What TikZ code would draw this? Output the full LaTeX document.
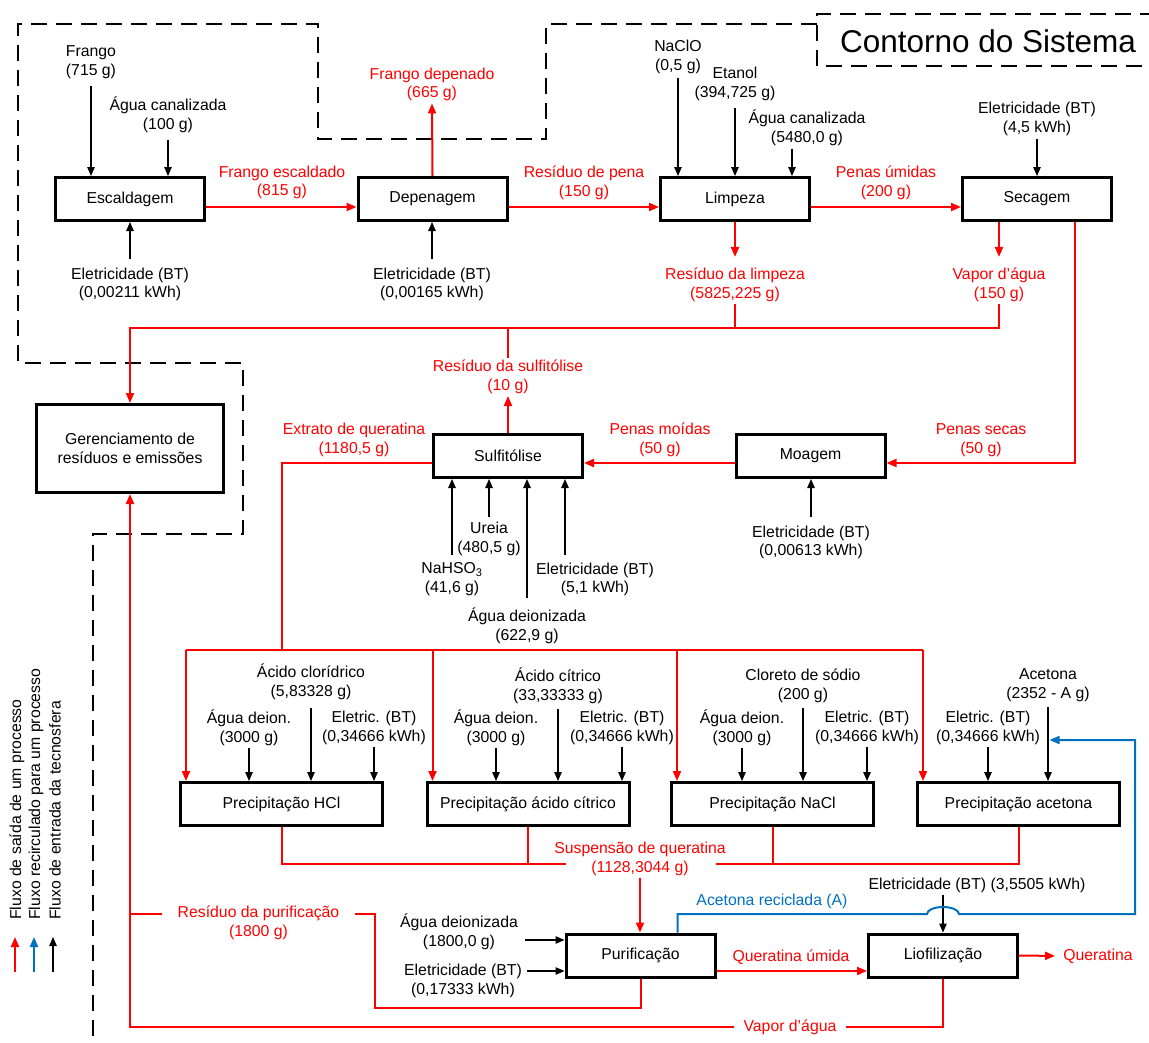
\documentclass[tikz,border=0pt]{standalone}
\usepackage{fontspec}
\setmainfont{Liberation Sans}
\usetikzlibrary{arrows.meta}
\definecolor{outred}{RGB}{255,0,0}
\definecolor{recblue}{RGB}{0,112,192}
\newcommand\lblsize{\fontsize{15.8}{18.8}\selectfont}
\tikzset{
  proc/.style={draw, line width=3pt, minimum width=149pt, minimum height=43pt, inner sep=0pt, align=center},
  lbl/.style={align=center, inner sep=2pt},
  outlbl/.style={lbl, text=outred},
  inarrow/.style={-{Triangle[length=9pt,width=7.5pt]}, line width=1.2pt},
  redline/.style={outred, line width=2pt},
  outarrow/.style={redline, -{Triangle[length=10pt,width=8pt]}},
  recarrow/.style={recblue, line width=2pt, -{Triangle[length=10pt,width=8pt]}},
  sysbound/.style={line width=2.8pt, dash pattern=on 16pt off 9pt},
}
\begin{document}
\begin{tikzpicture}[x=1pt, y=-1pt, font=\lblsize]
  \useasboundingbox (0,0) rectangle (1149,1042);

  \draw[sysbound] (817,24) -- (546,24) -- (546,139) -- (318,139) -- (318,24) -- (18,24) -- (18,363) -- (243,363) -- (243,534) -- (93,534) -- (93,1050);
  \draw[sysbound] (1156,14) -| (817,66) -- (1156,66);
  \node[font=\fontsize{31.5}{36}\selectfont] (title) at (988,41) {Contorno do Sistema};

  \node[proc] (escald) at (130,199) {Escaldagem};
  \node[proc] (depen) at (432.5,199) {Depenagem};
  \node[proc] (limp) at (735,199) {Limpeza};
  \node[proc] (secag) at (1037,199) {Secagem};
  \node[proc, minimum width=187pt, minimum height=88pt] (gerenc) at (130,448.5) {Gerenciamento de\\resíduos e emissões};
  \node[proc] (sulf) at (508,456) {Sulfitólise};
  \node[proc] (moag) at (810.5,456) {Moagem};
  \node[proc, minimum width=202pt] (precHCl) at (281.5,804) {Precipitação HCl};
  \node[proc, minimum width=202pt] (precCit) at (528,804) {Precipitação ácido cítrico};
  \node[proc, minimum width=202pt] (precNaCl) at (772.5,804) {Precipitação NaCl};
  \node[proc, minimum width=202pt] (precAcet) at (1018.5,804) {Precipitação acetona};
  \node[proc] (purif) at (640.5,955.5) {Purificação};
  \node[proc] (liof) at (943,955.5) {Liofilização};

  \node[lbl] (frango) at (91,62) {Frango\\(715 g)};
  \node[lbl] (aguaEsc) at (168,114.5) {Água canalizada\\(100 g)};
  \node[lbl] (eletEsc) at (130,284.5) {Eletricidade (BT)\\(0,00211 kWh)};
  \node[outlbl] (frEscald) at (282,182.5) {Frango escaldado\\(815 g)};
  \node[outlbl] (frDepen) at (432,84.5) {Frango depenado\\(665 g)};
  \node[lbl] (eletDep) at (432,284.5) {Eletricidade (BT)\\(0,00165 kWh)};
  \node[outlbl] (resPena) at (584,182.5) {Resíduo de pena\\(150 g)};
  \node[lbl] (naclo) at (678,57) {NaClO\\(0,5 g)};
  \node[lbl] (etanol) at (735,84) {Etanol\\(394,725 g)};
  \node[lbl] (aguaLimp) at (807,127.5) {Água canalizada\\(5480,0 g)};
  \node[outlbl] (penasUmid) at (886,183) {Penas úmidas\\(200 g)};
  \node[lbl] (eletSec) at (1037,119) {Eletricidade (BT)\\(4,5 kWh)};
  \node[outlbl] (resLimp) at (735,285) {Resíduo da limpeza\\(5825,225 g)};
  \node[outlbl] (vaporSec) at (999,285) {Vapor d’água\\(150 g)};
  \node[outlbl] (resSulf) at (508,377) {Resíduo da sulfitólise\\(10 g)};
  \node[outlbl] (extrato) at (354,440) {Extrato de queratina\\(1180,5 g)};
  \node[outlbl] (penasMoid) at (660,440) {Penas moídas\\(50 g)};
  \node[outlbl] (penasSec) at (981,440) {Penas secas\\(50 g)};
  \node[lbl] (eletMoag) at (811,542.5) {Eletricidade (BT)\\(0,00613 kWh)};
  \node[lbl] (ureia) at (489,539) {Ureia\\(480,5 g)};
  \node[lbl] (nahso) at (452,579.5) {NaHSO\textsubscript{3}\\(41,6 g)};
  \node[lbl] (eletSulf) at (595,579.5) {Eletricidade (BT)\\(5,1 kWh)};
  \node[lbl] (aguaSulf) at (527,625.5) {Água deionizada\\(622,9 g)};

  \node[lbl] (acHCl) at (311,682) {Ácido clorídrico\\(5,83328 g)};
  \node[lbl] (aguaHCl) at (249,728) {Água deion.\\(3000 g)};
  \node[lbl] (eletHCl) at (374,728) {Eletric. (BT)\\(0,34666 kWh)};
  \node[lbl] (acCit) at (558,685.5) {Ácido cítrico\\(33,33333 g)};
  \node[lbl] (aguaCit) at (496,728) {Água deion.\\(3000 g)};
  \node[lbl] (eletCit) at (622,728) {Eletric. (BT)\\(0,34666 kWh)};
  \node[lbl] (clNa) at (803,685.5) {Cloreto de sódio\\(200 g)};
  \node[lbl] (aguaNaCl) at (742,728) {Água deion.\\(3000 g)};
  \node[lbl] (eletNaCl) at (867,728) {Eletric. (BT)\\(0,34666 kWh)};
  \node[lbl] (eletAcet) at (988,728) {Eletric. (BT)\\(0,34666 kWh)};
  \node[lbl] (acetona) at (1048,685.5) {Acetona\\(2352 - A g)};

  \node[outlbl] (suspensao) at (640,859) {Suspensão de queratina\\(1128,3044 g)};
  \node[outlbl, inner xsep=15pt] (resPurif) at (258.5,922.5) {Resíduo da purificação\\(1800 g)};
  \node[lbl] (aguaPurif) at (459,931.5) {Água deionizada\\(1800,0 g)};
  \node[lbl] (eletPurif) at (463,980.5) {Eletricidade (BT)\\(0,17333 kWh)};
  \node[outlbl] (queratUmid) at (791,957) {Queratina úmida};
  \node[outlbl] (querat) at (1098,956) {Queratina};
  \node[lbl] (eletLiof) at (977,885) {Eletricidade (BT) (3,5505 kWh)};
  \node[lbl, text=recblue] (acetRec) at (772,901) {Acetona reciclada (A)};
  \node[outlbl, inner xsep=9pt] (vaporLiof) at (790,1027) {Vapor d’água};

  \node[lbl, rotate=90, anchor=west, inner sep=0pt] (legOut) at (17,920) {Fluxo de saída de um processo};
  \node[lbl, rotate=90, anchor=west, inner sep=0pt] (legRec) at (36,920) {Fluxo recirculado para um processo};
  \node[lbl, rotate=90, anchor=west, inner sep=0pt] (legIn) at (55,920) {Fluxo de entrada da tecnosfera};

  \coordinate (coll) at (0,328);
  \coordinate (dist) at (281.5,650);
  \coordinate (suspL) at (566,864);
  \coordinate (suspR) at (716,864);
  \coordinate (recY) at (0,914);
  \coordinate (recX) at (1135,740);
  \coordinate (rpC) at (375,1008);

  \draw[inarrow, shorten <=5pt] (frango.south) -- (frango.south |- escald.north);
  \draw[inarrow, shorten <=5pt] (aguaEsc.south) -- (aguaEsc.south |- escald.north);
  \draw[inarrow, shorten <=7pt] (eletEsc.north) -- (eletEsc.north |- escald.south);
  \draw[outarrow] ([yshift=-8pt]escald.east) -- ([yshift=-8pt]depen.west);
  \draw[outarrow] (depen.north) -- (frDepen.south);
  \draw[inarrow, shorten <=7pt] (eletDep.north) -- (eletDep.north |- depen.south);
  \draw[outarrow] ([yshift=-8pt]depen.east) -- ([yshift=-8pt]limp.west);
  \draw[inarrow, shorten <=2pt] (naclo.south) -- (naclo.south |- limp.north);
  \draw[inarrow, shorten <=5pt] (etanol.south) -- (etanol.south |- limp.north);
  \draw[inarrow, shorten <=1pt] ([xshift=-15pt]aguaLimp.south) -- ([xshift=-15pt]aguaLimp.south |- limp.north);
  \draw[outarrow] ([yshift=-8pt]limp.east) -- ([yshift=-8pt]secag.west);
  \draw[inarrow, shorten <=1pt] (eletSec.south) -- (eletSec.south |- secag.north);

  \draw[outarrow, shorten >=9pt] (limp.south) -- (resLimp.north);
  \draw[outarrow, shorten >=9pt] (vaporSec.north |- secag.south) -- (vaporSec.north);
  \draw[redline] (resLimp.south) -- (resLimp.south |- coll);
  \draw[outarrow] (vaporSec.south) -- (vaporSec.south |- coll) -- (gerenc.north |- coll) -- (gerenc.north);
  \draw[redline] (resSulf.north) -- (resSulf.north |- coll);
  \draw[outarrow] (sulf.north) -- (resSulf.south);

  \draw[outarrow] ([xshift=38pt]secag.south) |- ([yshift=-7pt]moag.east);
  \draw[outarrow] ([yshift=-7pt]moag.west) -- ([yshift=-7pt]sulf.east);
  \draw[inarrow, shorten <=7pt] (eletMoag.north) -- (eletMoag.north |- moag.south);
  \draw[inarrow, shorten <=6pt] (nahso.north) -- (nahso.north |- sulf.south);
  \draw[inarrow, shorten <=3pt] (ureia.north) -- (ureia.north |- sulf.south);
  \draw[inarrow, shorten <=7pt] (aguaSulf.north) -- (aguaSulf.north |- sulf.south);
  \draw[inarrow, shorten <=6pt] ([xshift=-30pt]eletSulf.north) -- ([xshift=-30pt]eletSulf.north |- sulf.south);

  \draw[redline] ([yshift=-7pt]sulf.west) -| (dist);
  \draw[redline] ([xshift=7pt]precHCl.north west |- dist) -- ([xshift=7pt]precAcet.north west |- dist);
  \foreach \b in {precHCl,precCit,precNaCl,precAcet}
    \draw[outarrow] ([xshift=7pt]\b.north west |- dist) -- ([xshift=7pt]\b.north west);

  \draw[inarrow, shorten <=6pt] (acHCl.south) -- (acHCl.south |- precHCl.north);
  \draw[inarrow] (aguaHCl.south) -- (aguaHCl.south |- precHCl.north);
  \draw[inarrow] (eletHCl.south) -- (eletHCl.south |- precHCl.north);
  \draw[inarrow, shorten <=3pt] (acCit.south) -- (acCit.south |- precCit.north);
  \draw[inarrow] (aguaCit.south) -- (aguaCit.south |- precCit.north);
  \draw[inarrow] (eletCit.south) -- (eletCit.south |- precCit.north);
  \draw[inarrow, shorten <=3pt] (clNa.south) -- (clNa.south |- precNaCl.north);
  \draw[inarrow] (aguaNaCl.south) -- (aguaNaCl.south |- precNaCl.north);
  \draw[inarrow] (eletNaCl.south) -- (eletNaCl.south |- precNaCl.north);
  \draw[inarrow] (eletAcet.south) -- (eletAcet.south |- precAcet.north);
  \draw[inarrow, shorten <=3pt] (acetona.south) -- (acetona.south |- precAcet.north);

  \draw[redline] (precHCl.south) |- (suspL);
  \draw[redline] (precCit.south) -- (precCit.south |- suspL);
  \draw[redline] (precNaCl.south) -- (precNaCl.south |- suspR);
  \draw[redline] (precAcet.south) |- (suspR);
  \draw[outarrow] (suspensao.south) -- (suspensao.south |- purif.north);

  \draw[inarrow, shorten <=5pt] ([yshift=-8.5pt]aguaPurif.east) -- ([yshift=-8.5pt]aguaPurif.east -| purif.west);
  \draw[inarrow, shorten <=3pt] ([yshift=9.5pt]eletPurif.east) -- ([yshift=9.5pt]eletPurif.east -| purif.west);
  \draw[outarrow] ([yshift=-15.5pt]purif.east) -- ([yshift=-15.5pt]liof.west);
  \draw[outarrow, shorten >=6pt] (liof.east) -- (querat.west);
  \draw[inarrow] (eletLiof.south -| liof.north) -- (liof.north);
  \draw[recarrow] ([xshift=37pt]purif.north) |- ([xshift=-16pt]liof.north |- recY)
    arc[start angle=180, end angle=0, x radius=16pt, y radius=7pt] -| (recX) -- ([xshift=1.5pt]acetona.south |- recX);

  \draw[redline] (purif.south) |- (rpC) |- ([yshift=8.5pt]resPurif.east);
  \draw[redline] ([yshift=8.5pt]resPurif.west) -- ([yshift=8.5pt]resPurif.west -| gerenc.south);
  \draw[redline] (liof.south) |- (vaporLiof.east);
  \draw[outarrow] (vaporLiof.west) -| (gerenc.south);

  \draw[outarrow] ([xshift=-2pt,yshift=-52pt]legOut.west) -- ([xshift=-2pt,yshift=-17pt]legOut.west);
  \draw[recarrow] ([xshift=-2pt,yshift=-52pt]legRec.west) -- ([xshift=-2pt,yshift=-17pt]legRec.west);
  \draw[inarrow] ([xshift=-2pt,yshift=-52pt]legIn.west) -- ([xshift=-2pt,yshift=-17pt]legIn.west);
\end{tikzpicture}
\end{document}
